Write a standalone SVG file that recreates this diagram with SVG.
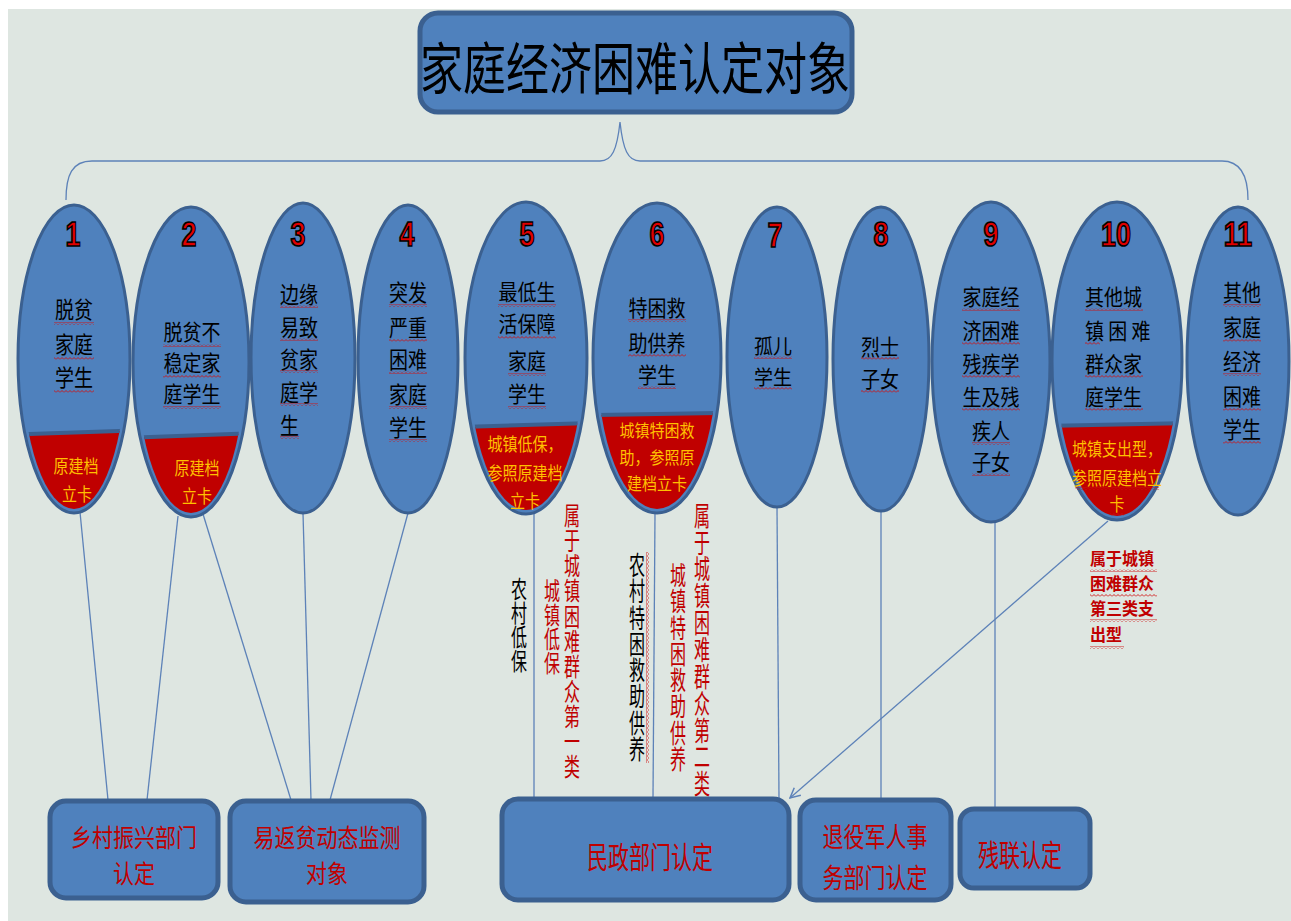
<svg xmlns="http://www.w3.org/2000/svg" width="1291" height="921" viewBox="0 0 1291 921">
<defs>
<style>
.ell{fill:#4f81bd;stroke:#3b6090;stroke-width:3}
.band{fill:#c00000}
.bline{stroke:#3b6090;stroke-width:4}
.box{fill:#4f81bd;stroke:#3b6090;stroke-width:5}
.con{stroke:#5d82b8;stroke-width:1.3;fill:none}
text{font-family:"Noto Sans CJK SC","Noto Sans",sans-serif;dominant-baseline:central;text-anchor:middle}
.t{font-size:19px;fill:#000}
.tl{font-size:19px;fill:#000;text-anchor:start}
.bt{font-size:15px;fill:#ffc000}
.num{font-family:"Liberation Sans",Arial,sans-serif;font-weight:bold;font-size:27px;fill:#e00000;stroke:#000;stroke-width:1.2}
.title{font-size:43px;fill:#000}
.bx{font-size:21px;fill:#c00000}
.v{font-size:16px;writing-mode:vertical-rl;text-anchor:start;dominant-baseline:auto}
.vk{fill:#000}
.vr{fill:#c00000}
.note{font-size:16px;font-weight:bold;fill:#c00000;text-anchor:start}
.sq{fill:url(#wv)}
.sqv{fill:url(#wvv)}
</style>
<pattern id="wv" width="4" height="3" patternUnits="userSpaceOnUse"><path d="M0 2.5 L2 0.5 L4 2.5" fill="none" stroke="#d01010" stroke-width="0.9"/></pattern>
<pattern id="wvv" width="3" height="4" patternUnits="userSpaceOnUse"><path d="M2.5 0 L0.5 2 L2.5 4" fill="none" stroke="#d01010" stroke-width="0.9"/></pattern>
<marker id="arr" viewBox="0 0 12 12" refX="11" refY="6" markerWidth="12" markerHeight="12" markerUnits="userSpaceOnUse" orient="auto"><path d="M1 1 L11 6 L1 11" fill="none" stroke="#5d82b8" stroke-width="1.5"/></marker>
<clipPath id="c1"><ellipse cx="74" cy="359" rx="52" ry="150"/></clipPath>
<clipPath id="c2"><ellipse cx="191" cy="362" rx="54" ry="151"/></clipPath>
<clipPath id="c5"><ellipse cx="526" cy="358" rx="57" ry="152"/></clipPath>
<clipPath id="c6"><ellipse cx="657" cy="358" rx="60" ry="151"/></clipPath>
<clipPath id="c10"><ellipse cx="1117" cy="361" rx="61" ry="155"/></clipPath>
</defs>
<rect x="0" y="0" width="1291" height="921" fill="#ffffff"/>
<rect x="8" y="9" width="1283" height="912" fill="#dee6e1"/>

<g id="connectors">
<path class="con" d="M66 200 C66 175 72 161 92 161 L600 161 C612 161 617 150 620 122 C623 150 628 161 640 161 L1222 161 C1240 161 1248 175 1248 200" stroke-width="1.6" stroke="#6a8dbd"/>
<line class="con" x1="80" y1="512" x2="108" y2="800"/>
<line class="con" x1="178" y1="516" x2="147" y2="800"/>
<line class="con" x1="203" y1="514" x2="291" y2="800"/>
<line class="con" x1="303" y1="513" x2="311" y2="800"/>
<line class="con" x1="408" y1="513" x2="330" y2="800"/>
<line class="con" x1="534" y1="513" x2="534" y2="798"/>
<line class="con" x1="655" y1="513" x2="653" y2="798"/>
<line class="con" x1="777" y1="507" x2="779" y2="798"/>
<line class="con" x1="881" y1="511" x2="881" y2="799"/>
<line class="con" x1="995" y1="521" x2="995" y2="808"/>
<line class="con" x1="1108" y1="521" x2="790" y2="798" marker-end="url(#arr)"/>
</g>

<g id="title">
<rect x="420" y="13" width="432" height="99" rx="18" class="box" stroke-width="4"/>
<text class="title" transform="translate(635,64) scale(1,1.3)">家庭经济困难认定对象</text>
</g>

<g id="n1">
<ellipse class="ell" cx="74" cy="359" rx="56" ry="154"/>
<g clip-path="url(#c1)"><polygon class="band" points="0,435 150,430 150,520 0,520"/><line class="bline" x1="0" y1="435" x2="150" y2="430"/></g>
<text class="num" transform="translate(73,234) scale(1,1.3)">1</text>
<rect class="sq" x="54" y="322" width="40" height="3"/><rect class="sq" x="54" y="357" width="40" height="3"/><rect class="sq" x="54" y="390" width="40" height="3"/>
<text class="t" transform="translate(74,308) scale(1,1.22)">脱贫</text>
<text class="t" transform="translate(74,343) scale(1,1.22)">家庭</text>
<text class="t" transform="translate(74,376) scale(1,1.22)">学生</text>
<text class="bt" transform="translate(76,465) scale(1,1.2)">原建档</text>
<text class="bt" transform="translate(77,493) scale(1,1.2)">立卡</text>
</g>

<g id="n2">
<ellipse class="ell" cx="191" cy="362" rx="58" ry="155"/>
<g clip-path="url(#c2)"><polygon class="band" points="120,438 260,433 260,530 120,530"/><line class="bline" x1="120" y1="438" x2="260" y2="433"/></g>
<text class="num" transform="translate(189,234) scale(1,1.3)">2</text>
<rect class="sq" x="163" y="344" width="58" height="3"/><rect class="sq" x="163" y="375" width="58" height="3"/><rect class="sq" x="163" y="406" width="58" height="3"/>
<text class="t" transform="translate(192,331) scale(1,1.12)">脱贫不</text>
<text class="t" transform="translate(192,362) scale(1,1.12)">稳定家</text>
<text class="t" transform="translate(192,393) scale(1,1.12)">庭学生</text>
<text class="bt" transform="translate(197,467) scale(1,1.2)">原建档</text>
<text class="bt" transform="translate(197,495) scale(1,1.2)">立卡</text>
</g>

<g id="n3">
<ellipse class="ell" cx="303" cy="358" rx="52" ry="155"/>
<text class="num" transform="translate(298,234) scale(1,1.3)">3</text>
<rect class="sq" x="280" y="305" width="38" height="3"/><rect class="sq" x="280" y="338" width="38" height="3"/><rect class="sq" x="280" y="370" width="38" height="3"/><rect class="sq" x="280" y="403" width="38" height="3"/><rect class="sq" x="280" y="436" width="19" height="3"/>
<text class="tl" transform="translate(280,293) scale(1,1.18)">边缘</text>
<text class="tl" transform="translate(280,326) scale(1,1.18)">易致</text>
<text class="tl" transform="translate(280,358) scale(1,1.18)">贫家</text>
<text class="tl" transform="translate(280,391) scale(1,1.18)">庭学</text>
<text class="tl" transform="translate(280,424) scale(1,1.18)">生</text>
</g>

<g id="n4">
<ellipse class="ell" cx="408" cy="359" rx="50" ry="154"/>
<text class="num" transform="translate(407,234) scale(1,1.3)">4</text>
<rect class="sq" x="389" y="304" width="38" height="3"/><rect class="sq" x="389" y="339" width="38" height="3"/><rect class="sq" x="389" y="371" width="38" height="3"/><rect class="sq" x="389" y="406" width="38" height="3"/><rect class="sq" x="389" y="439" width="38" height="3"/>
<text class="t" transform="translate(408,291) scale(1,1.18)">突发</text>
<text class="t" transform="translate(408,326) scale(1,1.18)">严重</text>
<text class="t" transform="translate(408,358) scale(1,1.18)">困难</text>
<text class="t" transform="translate(408,393) scale(1,1.18)">家庭</text>
<text class="t" transform="translate(408,426) scale(1,1.18)">学生</text>
</g>

<g id="n5">
<ellipse class="ell" cx="526" cy="358" rx="61" ry="156"/>
<g clip-path="url(#c5)"><polygon class="band" points="460,427 595,423 595,520 460,520"/><line class="bline" x1="460" y1="427" x2="595" y2="423"/></g>
<text class="num" transform="translate(527,234) scale(1,1.3)">5</text>
<rect class="sq" x="498" y="304" width="58" height="3"/><rect class="sq" x="498" y="336" width="58" height="3"/><rect class="sq" x="508" y="373" width="38" height="3"/><rect class="sq" x="508" y="406" width="38" height="3"/>
<text class="t" transform="translate(527,291) scale(1,1.12)">最低生</text>
<text class="t" transform="translate(527,323) scale(1,1.12)">活保障</text>
<text class="t" transform="translate(527,360) scale(1,1.12)">家庭</text>
<text class="t" transform="translate(527,393) scale(1,1.12)">学生</text>
<text class="bt" transform="translate(525,443) scale(1,1.2)" font-size="14">城镇低保，</text>
<text class="bt" transform="translate(525,472) scale(1,1.2)" font-size="14">参照原建档</text>
<text class="bt" transform="translate(525,500) scale(1,1.2)" font-size="14">立卡</text>
</g>

<g id="n6">
<ellipse class="ell" cx="657" cy="358" rx="64" ry="155"/>
<g clip-path="url(#c6)"><polygon class="band" points="590,415 725,413 725,520 590,520"/><line class="bline" x1="590" y1="415" x2="725" y2="413"/></g>
<text class="num" transform="translate(657,234) scale(1,1.3)">6</text>
<rect class="sq" x="628" y="319" width="58" height="3"/><rect class="sq" x="628" y="354" width="58" height="3"/><rect class="sq" x="638" y="386" width="38" height="3"/>
<text class="t" transform="translate(657,306) scale(1,1.16)">特困救</text>
<text class="t" transform="translate(657,341) scale(1,1.16)">助供养</text>
<text class="t" transform="translate(657,373) scale(1,1.16)">学生</text>
<text class="bt" transform="translate(657,430) scale(1,1.12)" font-size="14">城镇特困救</text>
<text class="bt" transform="translate(657,457) scale(1,1.12)" font-size="14">助，参照原</text>
<text class="bt" transform="translate(657,483) scale(1,1.12)" font-size="14">建档立卡</text>
</g>

<g id="n7">
<ellipse class="ell" cx="777" cy="357" rx="50" ry="150"/>
<text class="num" transform="translate(775,235) scale(1,1.3)">7</text>
<rect class="sq" x="754" y="356" width="38" height="3"/><rect class="sq" x="754" y="387" width="38" height="3"/>
<text class="t" transform="translate(773,345) scale(1,1.08)">孤儿</text>
<text class="t" transform="translate(773,376) scale(1,1.08)">学生</text>
</g>

<g id="n8">
<ellipse class="ell" cx="881" cy="359" rx="48" ry="152"/>
<text class="num" transform="translate(881,234) scale(1,1.3)">8</text>
<rect class="sq" x="861" y="357" width="38" height="3"/><rect class="sq" x="861" y="390" width="38" height="3"/>
<text class="t" transform="translate(880,346) scale(1,1.12)">烈士</text>
<text class="t" transform="translate(880,378) scale(1,1.12)">子女</text>
</g>

<g id="n9">
<ellipse class="ell" cx="991" cy="362" rx="59" ry="160"/>
<text class="num" transform="translate(991,234) scale(1,1.3)">9</text>
<rect class="sq" x="962" y="308" width="58" height="3"/><rect class="sq" x="962" y="342" width="58" height="3"/><rect class="sq" x="962" y="375" width="58" height="3"/><rect class="sq" x="962" y="408" width="58" height="3"/><rect class="sq" x="972" y="442" width="38" height="3"/><rect class="sq" x="972" y="473" width="38" height="3"/>
<text class="t" transform="translate(991,296) scale(1,1.12)">家庭经</text>
<text class="t" transform="translate(991,330) scale(1,1.12)">济困难</text>
<text class="t" transform="translate(991,363) scale(1,1.12)">残疾学</text>
<text class="t" transform="translate(991,396) scale(1,1.12)">生及残</text>
<text class="t" transform="translate(991,430) scale(1,1.12)">疾人</text>
<text class="t" transform="translate(991,461) scale(1,1.12)">子女</text>
</g>

<g id="n10">
<ellipse class="ell" cx="1117" cy="361" rx="65" ry="159"/>
<g clip-path="url(#c10)"><polygon class="band" points="1050,426 1185,423 1185,525 1050,525"/><line class="bline" x1="1050" y1="426" x2="1185" y2="423"/></g>
<text class="num" transform="translate(1116,234) scale(1,1.3)">10</text>
<rect class="sq" x="1085" y="308" width="58" height="3"/><rect class="sq" x="1085" y="342" width="15" height="3"/><rect class="sq" x="1085" y="375" width="58" height="3"/><rect class="sq" x="1085" y="408" width="58" height="3"/>
<text class="tl" transform="translate(1085,296) scale(1,1.12)">其他城</text>
<text class="tl" transform="translate(1085,330) scale(1,1.12)">镇 困 难</text>
<text class="tl" transform="translate(1085,363) scale(1,1.12)">群众家</text>
<text class="tl" transform="translate(1085,396) scale(1,1.12)">庭学生</text>
<rect class="sq" x="1075" y="487" width="84" height="3"/><rect class="sq" x="1110" y="513" width="14" height="3"/>
<text class="bt" transform="translate(1117,448) scale(1,1.2)" font-size="14">城镇支出型，</text>
<text class="bt" transform="translate(1117,477) scale(1,1.2)" font-size="14">参照原建档立</text>
<text class="bt" transform="translate(1117,503) scale(1,1.2)" font-size="14">卡</text>
</g>

<g id="n11">
<ellipse class="ell" cx="1238" cy="361" rx="51" ry="154"/>
<text class="num" transform="translate(1238,234) scale(1,1.3)">11</text>
<rect class="sq" x="1223" y="304" width="38" height="3"/><rect class="sq" x="1223" y="339" width="38" height="3"/><rect class="sq" x="1223" y="373" width="38" height="3"/><rect class="sq" x="1223" y="408" width="38" height="3"/><rect class="sq" x="1223" y="441" width="38" height="3"/>
<text class="t" transform="translate(1242,291) scale(1,1.18)">其他</text>
<text class="t" transform="translate(1242,326) scale(1,1.18)">家庭</text>
<text class="t" transform="translate(1242,360) scale(1,1.18)">经济</text>
<text class="t" transform="translate(1242,395) scale(1,1.18)">困难</text>
<text class="t" transform="translate(1242,428) scale(1,1.18)">学生</text>
</g>

<g id="labels">
<text class="v vk" transform="translate(519,577) scale(1,1.5)">农村低保</text>
<text class="v vr" transform="translate(552,579) scale(1,1.5)">城镇低保</text>
<text class="v vr" transform="translate(572,503) scale(1,1.57)">属于城镇困难群众第一类</text>
<rect class="sqv" x="646" y="552" width="3" height="211"/>
<text class="v vk" transform="translate(637,552) scale(1,1.64)">农村特困救助供养</text>
<text class="v vr" transform="translate(678,562) scale(1,1.64)">城镇特困救助供养</text>
<text class="v vr" transform="translate(702,502) scale(1,1.68)">属于城镇困难群众第二类</text>
<rect class="sq" x="1090" y="569" width="67" height="3"/><rect class="sq" x="1090" y="594" width="67" height="3"/><rect class="sq" x="1090" y="619" width="67" height="3"/><rect class="sq" x="1090" y="646" width="34" height="3"/>
<text class="note" transform="translate(1090,558) scale(1,1.05)">属于城镇</text>
<text class="note" transform="translate(1090,583) scale(1,1.05)">困难群众</text>
<text class="note" transform="translate(1090,608) scale(1,1.05)">第三类支</text>
<text class="note" transform="translate(1090,634) scale(1,1.05)">出型</text>
</g>

<g id="b1">
<rect class="box" x="50" y="801" width="168" height="97" rx="16"/>
<text class="bx" transform="translate(134,836) scale(1,1.18)">乡村振兴部门</text>
<text class="bx" transform="translate(134,872) scale(1,1.18)">认定</text>
</g>
<g id="b2">
<rect class="box" x="230" y="801" width="194" height="101" rx="16"/>
<text class="bx" transform="translate(327,836) scale(1,1.18)">易返贫动态监测</text>
<text class="bx" transform="translate(327,872) scale(1,1.18)">对象</text>
</g>
<g id="b3">
<rect class="box" x="502" y="799" width="287" height="101" rx="16"/>
<text class="bx" transform="translate(650,855) scale(1,1.4)">民政部门认定</text>
</g>
<g id="b4">
<rect class="box" x="800" y="800" width="151" height="100" rx="16"/>
<text class="bx" transform="translate(875,835) scale(1,1.3)">退役军人事</text>
<text class="bx" transform="translate(875,876) scale(1,1.3)">务部门认定</text>
</g>
<g id="b5">
<rect class="box" x="960" y="809" width="130" height="79" rx="14"/>
<text class="bx" transform="translate(1020,853) scale(1,1.4)">残联认定</text>
</g>
</svg>
